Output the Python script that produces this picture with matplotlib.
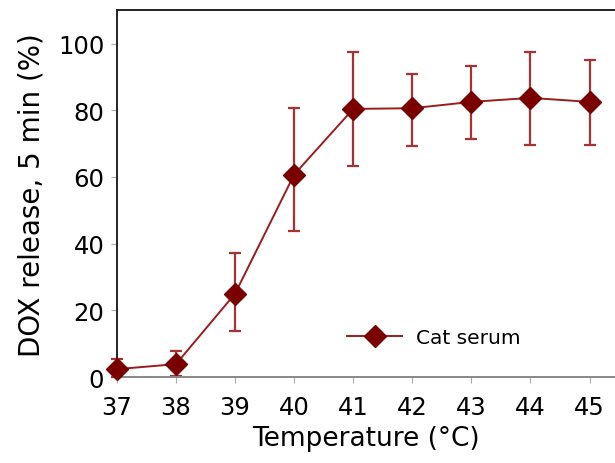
import numpy as np
import matplotlib
matplotlib.use("Agg")
import matplotlib.pyplot as plt

# data
temperature = [37, 38, 39, 40, 41, 42, 43, 44, 45]
release = [2.4, 3.9, 25.0, 60.7, 80.4, 80.6, 82.5, 83.7, 82.5]
err_low = [2.4, 3.5, 11.3, 17.0, 17.0, 11.3, 11.2, 14.1, 12.9]
err_high = [3.0, 3.8, 12.2, 19.9, 17.0, 10.3, 10.8, 13.8, 12.5]

x_ticks = [37, 38, 39, 40, 41, 42, 43, 44, 45]
y_ticks = [0, 20, 40, 60, 80, 100]

plt.rcParams["font.family"] = ["DejaVu Sans"]

fig = plt.figure(figsize=(6.15, 4.64), dpi=100)
ax = fig.add_axes([0.190, 0.185, 0.81, 0.791])

ax.errorbar(temperature, release, yerr=[err_low, err_high],
            fmt="none", ecolor="#a83232", elinewidth=1.6,
            capsize=4, capthick=1.6, clip_on=False, zorder=2)
ax.plot(temperature, release, color="#9a1c1c", lw=1.4,
        marker="D", markersize=11.5, markerfacecolor="#7a0000",
        markeredgecolor="#7a0000", clip_on=False, zorder=3,
        label="Cat serum")

ax.set_xlim(37, 45.43)
ax.set_ylim(0, 110)
ax.set_xticks(x_ticks)
ax.set_yticks(y_ticks)

ax.spines["right"].set_visible(False)
for s in ("left", "bottom", "top"):
    ax.spines[s].set_linewidth(1.4)
    ax.spines[s].set_color("#222222")
ax.spines["bottom"].set_color("#888888")

ax.tick_params(axis="both", length=4, width=0.8, color="#aaaaaa",
               labelsize=17.5)
ax.tick_params(axis="x", pad=8.5)
ax.tick_params(axis="y", pad=5)

ax.set_xlabel("Temperature (°C)", fontsize=19, labelpad=5)
ax.set_ylabel("DOX release, 5 min (%)", fontsize=20, labelpad=9)

leg = ax.legend(loc="center left",
                bbox_to_anchor=((347 - 117) / 498, (378 - 338) / 367),
                frameon=False, borderpad=0, borderaxespad=0,
                fontsize=14.5, handlelength=2.75, handletextpad=0.7)

fig.savefig("out.png", dpi=100)
